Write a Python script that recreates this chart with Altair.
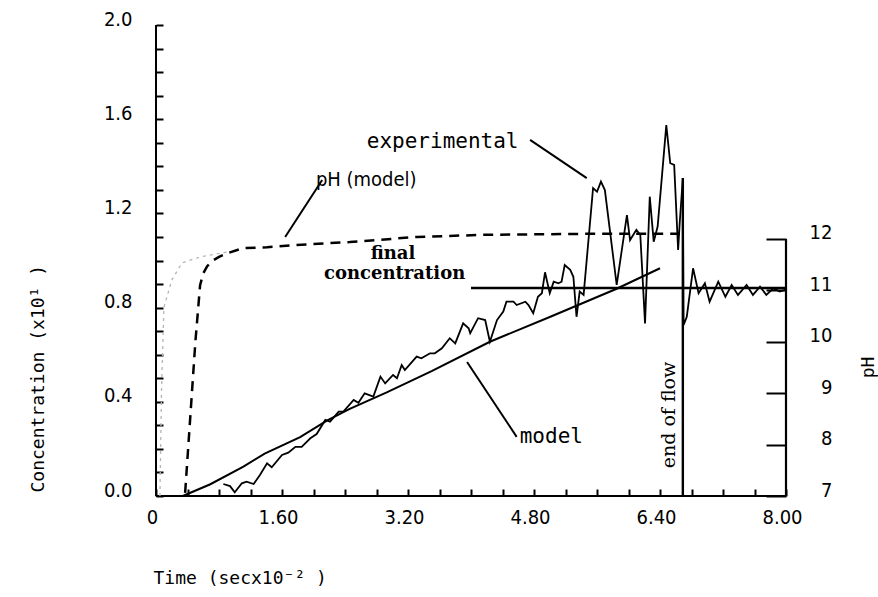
import altair as alt
import pandas as pd

# ---------------- data (time in sec x10^-2, concentration x10^1, pH) ----------------
exp_t = [0.855, 0.94, 1.00, 1.09, 1.15, 1.24, 1.32, 1.41, 1.47, 1.60, 1.68, 1.77, 1.85, 1.96,
         2.04, 2.15, 2.21, 2.32, 2.38, 2.51, 2.57, 2.65, 2.76, 2.85, 2.91, 3.01, 3.06, 3.12,
         3.16, 3.31, 3.37, 3.48, 3.54, 3.63, 3.73, 3.80, 3.90, 3.97, 3.99, 4.09, 4.18, 4.24,
         4.33, 4.41, 4.45, 4.54, 4.58, 4.69, 4.73, 4.79, 4.85, 4.90, 4.94, 5.00, 5.05, 5.11,
         5.15, 5.19, 5.26, 5.30, 5.34, 5.38, 5.43, 5.55, 5.60, 5.65, 5.70, 5.85, 5.98, 6.02,
         6.10, 6.15, 6.21, 6.27, 6.32, 6.37, 6.48, 6.53, 6.58, 6.63, 6.65, 6.69, 6.70, 6.74,
         6.82, 6.89, 6.97, 7.03, 7.14, 7.23, 7.31, 7.39, 7.50, 7.58, 7.67, 7.75, 7.84, 7.92,
         7.99]
exp_c = [0.051, 0.042, 0.016, 0.054, 0.061, 0.051, 0.089, 0.139, 0.122, 0.174, 0.184, 0.209,
         0.209, 0.245, 0.263, 0.323, 0.316, 0.358, 0.358, 0.408, 0.396, 0.436, 0.422, 0.507,
         0.478, 0.514, 0.500, 0.556, 0.535, 0.592, 0.585, 0.606, 0.606, 0.627, 0.670, 0.648,
         0.733, 0.712, 0.691, 0.755, 0.747, 0.655, 0.747, 0.783, 0.825, 0.825, 0.811, 0.825,
         0.811, 0.776, 0.846, 0.861, 0.950, 0.861, 0.910, 0.903, 0.910, 0.981, 0.960, 0.931,
         0.761, 0.868, 0.854, 1.307, 1.292, 1.335, 1.299, 0.896, 1.193, 1.087, 1.130, 1.108,
         0.733, 1.271, 1.080, 1.144, 1.575, 1.413, 1.406, 1.045, 1.158, 1.349, 0.726, 0.761,
         0.967, 0.861, 0.903, 0.825, 0.910, 0.846, 0.896, 0.854, 0.896, 0.854, 0.889, 0.854,
         0.882, 0.868, 0.875]

model_t = [0.34, 0.69, 1.11, 1.38, 1.83, 2.17, 2.46, 2.93, 3.50, 4.24, 5.00, 5.85, 6.40]
model_c = [0.0, 0.05, 0.125, 0.18, 0.25, 0.32, 0.37, 0.44, 0.53, 0.655, 0.76, 0.88, 0.967]

ph_t = [0.37, 0.50, 0.56, 0.60, 0.65, 0.72, 0.80, 0.90, 1.10, 1.41, 1.74, 2.46, 3.31, 4.15, 5.40, 6.65]
ph_v = [7.06, 10.00, 11.10, 11.33, 11.47, 11.58, 11.65, 11.72, 11.82, 11.84, 11.88, 11.94,
        12.04, 12.08, 12.10, 12.10]

faint_t = [0.05, 0.07, 0.10, 0.20, 0.33, 0.56, 0.90]
faint_c = [0.0, 0.45, 0.80, 0.917, 0.99, 1.015, 1.036]

final_t = [4.0, 8.0]
final_c = 0.883
end_flow_t = 6.69
end_flow_top = 1.35

x_ticks = [0, 0.4, 0.8, 1.2, 1.6, 2.0, 2.4, 2.8, 3.2, 3.6, 4.0, 4.4, 4.8, 5.2, 5.6, 6.0,
           6.4, 6.8, 7.2, 7.6, 8.0]
y_ticks = [0, 0.1, 0.2, 0.3, 0.4, 0.5, 0.6, 0.7, 0.8, 0.9, 1.0, 1.1, 1.2, 1.3, 1.4, 1.5,
           1.6, 1.7, 1.8, 1.9, 2.0]
ph_ticks = [7, 8, 9, 10, 11, 12]

# annotations: (time, concentration, text)
sans_labels = [(3.64, 1.503, "experimental"), (5.02, 0.25, "model")]
narrow_labels = [(2.67, 1.342, "pH (model)")]
serif_labels = [(3.01, 1.028, "final"), (3.03, 0.943, "concentration")]
leader_lines = [(4.75, 1.512, 5.47, 1.350), (2.11, 1.342, 1.64, 1.100), (3.95, 0.569, 4.58, 0.251)]

# ---------------- tables ----------------
exp_df = pd.DataFrame({"t": exp_t, "c": exp_c})
model_df = pd.DataFrame({"t": model_t, "c": model_c})
ph_df = pd.DataFrame({"t": ph_t, "c": ph_v})
faint_df = pd.DataFrame({"t": faint_t, "c": faint_c})
final_df = pd.DataFrame({"t": [final_t[0]], "t2": [final_t[1]], "c": [final_c], "c2": [final_c]})
eof_df = pd.DataFrame({"t": [end_flow_t], "t2": [end_flow_t], "c": [0.0], "c2": [end_flow_top]})
frame_df = pd.DataFrame({"t": [0.0, 0.0], "t2": [0.0, 8.0], "c": [0.0, 0.0], "c2": [2.0, 0.0]})
ph_frame_df = pd.DataFrame({"t": [8.0], "t2": [8.0], "c": [7.0], "c2": [12.0]})
lead_df = pd.DataFrame(leader_lines, columns=["t", "c", "t2", "c2"])
sans_df = pd.DataFrame(sans_labels, columns=["t", "c", "label"])
narrow_df = pd.DataFrame(narrow_labels, columns=["t", "c", "label"])
serif_df = pd.DataFrame(serif_labels, columns=["t", "c", "label"])
eof_text_df = pd.DataFrame({"t": [6.51], "c": [0.344], "label": ["end of flow"]})

NARROW = "Liberation Sans Narrow, DejaVu Sans Condensed, DejaVu Sans Mono"
MONO = "DejaVu Sans Mono"

x_scale = alt.Scale(domain=[0, 8], nice=False, zero=False)
x_axis = alt.Axis(
    values=x_ticks,
    labelExpr="datum.value == 0 ? '0' : (abs(datum.value / 1.6 - round(datum.value / 1.6)) < 0.001 ? format(datum.value, '.2f') : '')",
    tickSize=7, offset=-7, domain=False, grid=False, labelPadding=11, labelOffset=-4,
    labelFlush=False, labelOverlap=False, labelBound=False,
    labelBaseline="top", labelFont=NARROW, labelFontSize=20,
    title="Time (secx10⁻² )", titleX=-3, titleY=89, titleAlign="left", titleBaseline="middle",
    titleFont=MONO, titleFontSize=18, titleFontWeight="normal",
)
c_scale = alt.Scale(domain=[0, 2.0], nice=False, zero=False)
c_axis = alt.Axis(
    values=y_ticks,
    labelExpr="abs(datum.value / 0.4 - round(datum.value / 0.4)) < 0.001 ? format(datum.value, '.1f') : ''",
    tickSize=7, offset=-7, domain=False, grid=False, labelPadding=24, labelOffset=-6,
    labelFlush=False, labelOverlap=False, labelBound=False,
    labelFont=NARROW, labelFontSize=20,
    title="Concentration (x10¹ )", titleX=-125, titleY=467, titleAngle=270, titleAlign="left",
    titleBaseline="middle", titleFont=MONO, titleFontSize=18, titleFontWeight="normal",
)
ph_scale = alt.Scale(domain=[7, 16.163], nice=False, zero=False)
ph_axis = alt.Axis(
    values=ph_ticks, orient="right", tickSize=20, offset=-20, domain=False, grid=False,
    labelAlign="right", labelPadding=46, labelOffset=-6, labelFont=NARROW, labelFontSize=20,
    labelFlush=False, labelOverlap=False, labelBound=False,
    title="pH", titleX=102, titleY=342, titleAngle=270, titleAlign="center",
    titleBaseline="middle", titleFont=MONO, titleFontSize=18, titleFontWeight="normal",
)


def X(f="t"):
    return alt.X(f"{f}:Q", scale=x_scale, axis=x_axis)


def Y(f="c"):
    return alt.Y(f"{f}:Q", scale=c_scale, axis=c_axis)


def YP(f="c"):
    return alt.Y(f"{f}:Q", scale=ph_scale, axis=ph_axis)


frame = alt.Chart(frame_df).mark_rule(color="black", strokeWidth=2).encode(
    x=X(), y=Y(), x2="t2:Q", y2="c2:Q")
faint = alt.Chart(faint_df).mark_line(color="#b5b5b5", strokeWidth=1.3, strokeDash=[3, 4]).encode(
    x=X(), y=Y())
model = alt.Chart(model_df).mark_line(color="black", strokeWidth=2).encode(x=X(), y=Y())
exper = alt.Chart(exp_df).mark_line(color="black", strokeWidth=1.8).encode(x=X(), y=Y())
final = alt.Chart(final_df).mark_rule(color="black", strokeWidth=2.6).encode(
    x=X(), y=Y(), x2="t2:Q", y2="c2:Q")
eof = alt.Chart(eof_df).mark_rule(color="black", strokeWidth=2.4).encode(
    x=X(), y=Y(), x2="t2:Q", y2="c2:Q")
leads = alt.Chart(lead_df).mark_rule(color="black", strokeWidth=2).encode(
    x=X(), y=Y(), x2="t2:Q", y2="c2:Q")
sans_txt = alt.Chart(sans_df).mark_text(font=MONO, fontSize=21, color="black").encode(
    x=X(), y=Y(), text="label:N")
narrow_txt = alt.Chart(narrow_df).mark_text(font=NARROW, fontSize=20, color="black").encode(
    x=X(), y=Y(), text="label:N")
serif_txt = alt.Chart(serif_df).mark_text(font="DejaVu Serif", fontSize=18, fontWeight="bold",
                                          color="black").encode(x=X(), y=Y(), text="label:N")
eof_txt = alt.Chart(eof_text_df).mark_text(font="DejaVu Serif", fontSize=19, angle=270,
                                           color="black").encode(x=X(), y=Y(), text="label:N")

conc = alt.layer(frame, faint, model, exper, final, eof, leads, sans_txt, narrow_txt,
                 serif_txt, eof_txt)

ph_line = alt.Chart(ph_df).mark_line(color="black", strokeWidth=2.5, strokeDash=[10, 7]).encode(
    x=X(), y=YP())
ph_frame = alt.Chart(ph_frame_df).mark_rule(color="black", strokeWidth=2.2).encode(
    x=X(), y=YP(), x2="t2:Q", y2="c2:Q")
ph = alt.layer(ph_line, ph_frame)

chart = alt.layer(conc, ph).resolve_scale(y="independent").properties(
    width=630, height=471,
    padding={"left": 156, "top": 25, "right": 92, "bottom": 101},
    autosize=alt.AutoSizeParams(type="none"),
    background="white",
).configure_view(stroke=None).configure_axis(
    tickColor="black", tickWidth=2, labelColor="black", titleColor="black",
)

chart.save("out.html", embed_options={"renderer": "svg", "actions": False})
